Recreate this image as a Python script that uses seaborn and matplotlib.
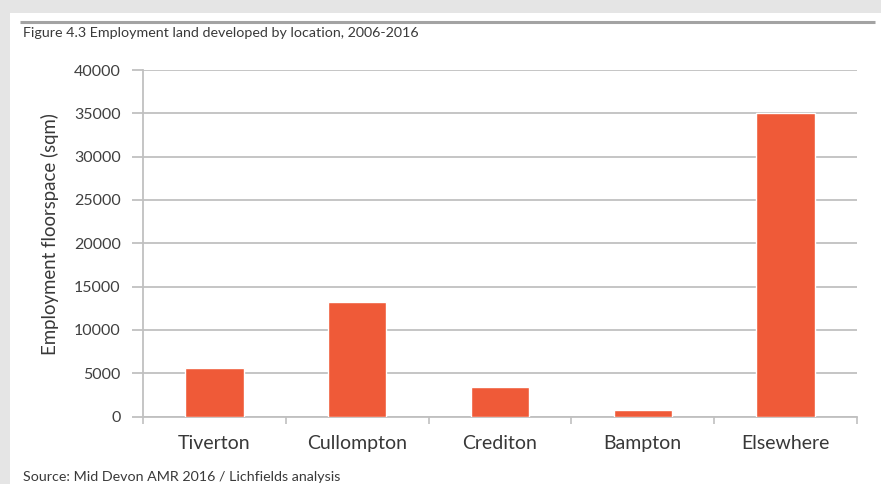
import matplotlib
matplotlib.use("Agg")
import matplotlib.pyplot as plt
import seaborn as sns
import pandas as pd
from matplotlib.patches import Rectangle

locations = ["Tiverton", "Cullompton", "Crediton", "Bampton", "Elsewhere"]
floorspace = [5600, 13200, 3400, 700, 35000]
y_ticks = [0, 5000, 10000, 15000, 20000, 25000, 30000, 35000, 40000]
title = "Figure 4.3 Employment land developed by location, 2006-2016"
source = "Source: Mid Devon AMR 2016 / Lichfields analysis"
ylabel = "Employment floorspace (sqm)"

df = pd.DataFrame({"location": locations, "floorspace": floorspace})

sns.set_theme(style="white")
plt.rcParams["font.family"] = ["Lato", "DejaVu Sans"]

W, H = 881, 484
fig = plt.figure(figsize=(W / 100, H / 100), dpi=100)
fig.patch.set_facecolor("#e5e5e5")

bg = fig.add_axes([0, 0, 1, 1], zorder=-5)
bg.set_xlim(0, W)
bg.set_ylim(H, 0)
bg.axis("off")
bg.add_patch(Rectangle((10, 13), W - 10, H - 13, facecolor="white", edgecolor="none"))
bg.plot([20, 875], [21.7, 21.7], color="#a3a3a3", linewidth=2.2, solid_capstyle="butt")
bg.text(23, 33, title, fontsize=10.3, color="#3a3a3a", va="center", ha="left")
bg.text(23, 477, source, fontsize=10.3, color="#3a3a3a", va="center", ha="left")

left, right, bottom, top = 143, 857, 416.5, 70
ax = fig.add_axes([left / W, (H - bottom) / H, (right - left) / W, (bottom - top) / H])
ax.set_facecolor("none")

sns.barplot(data=df, x="location", y="floorspace", color="#EF5A38", saturation=1,
            width=0.41, ax=ax, zorder=3)

ax.set_ylim(0, 40000)
ax.set_xlim(-0.5, 4.5)
ax.set_yticks(y_ticks)
ax.set_yticklabels([str(v) for v in y_ticks], fontsize=11.5, color="#404040")
ax.yaxis.grid(True, color="#c0c0c0", linewidth=1.3)
ax.set_axisbelow(True)
ax.tick_params(axis="y", length=8, width=1.3, color="#c0c0c0", pad=8, left=True)
ax.tick_params(axis="x", length=0, labelsize=14, labelcolor="#383838", pad=13)
ax.set_xticks(range(len(locations)))
ax.set_xticks([i - 0.5 for i in range(len(locations) + 1)], minor=True)
ax.tick_params(axis="x", which="minor", length=5, width=1.2, color="#c0c0c0", bottom=True)
ax.set_xlabel("")
ax.set_ylabel(ylabel, fontsize=13.4, color="#383838")
ax.yaxis.set_label_coords(-0.118, 0.527)

for s in ["top", "right"]:
    ax.spines[s].set_visible(False)
for s in ["left", "bottom"]:
    ax.spines[s].set_color("#c0c0c0")
    ax.spines[s].set_linewidth(1.3)

fig.savefig("out.png", dpi=100, facecolor=fig.get_facecolor())
